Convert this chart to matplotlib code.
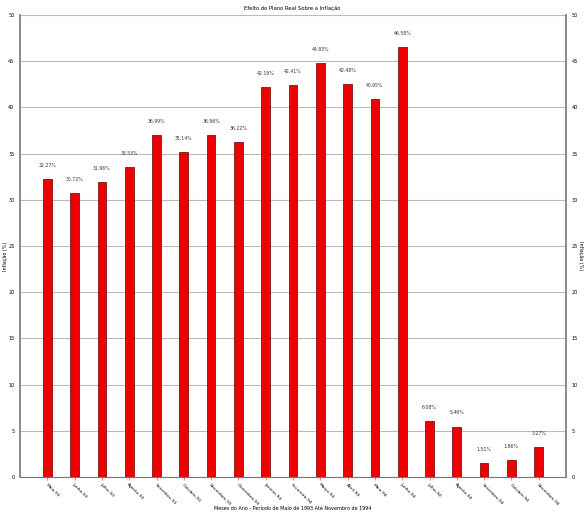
import numpy as np
import matplotlib.pyplot as plt

# Dados
meses = ['Maio-93', 'Junho-93', 'Julho-93', 'Agosto-93', 'Setembro-93', 'Outubro-93',
         'Novembro-93', 'Dezembro-93', 'Janeiro-94', 'Fevereiro-94', 'Março-94',
         'Abril-94', 'Maio-94', 'Junho-94', 'Julho-94', 'Agosto-94', 'Setembro-94',
         'Outubro-94', 'Novembro-94']
inflacao = [32.27, 30.72, 31.96, 33.53, 36.99, 35.14, 36.96, 36.22, 42.19, 42.41,
            44.83, 42.48, 40.95, 46.58, 6.08, 5.46, 1.51, 1.86, 3.27]
yticks = [0, 5, 10, 15, 20, 25, 30, 35, 40, 45, 50]

fig = plt.figure(figsize=(5.85, 5.12), dpi=100)
ax = fig.add_axes([20 / 585, 35 / 512, 546 / 585, 462 / 512])

x = np.arange(len(meses))
ax.bar(x, inflacao, width=0.32, color='#ee0000', edgecolor='#660000', linewidth=0.5, zorder=3)

for xi, v in zip(x, inflacao):
    ax.text(xi, v + 1.2, f'{v:.2f}%', ha='center', va='bottom', fontsize=3.3, color='#333333')

ax.set_xlim(-1, len(meses))
ax.set_ylim(0, 50)
ax.set_yticks(yticks)
ax.yaxis.grid(True, color='#bbbbbb', linewidth=0.8, zorder=0)
ax.set_xticks(x)
ax.set_xticklabels(meses, rotation=-45, ha='left', va='top', rotation_mode='anchor', fontsize=3.2)
ax.tick_params(axis='x', length=2, width=0.5, pad=2, color='#777777')
ax.tick_params(axis='y', labelsize=3.5, length=0, pad=4, right=True, labelright=True)

for side in ['left', 'right']:
    ax.spines[side].set_color('#777777')
    ax.spines[side].set_linewidth(1.2)
ax.spines['top'].set_visible(False)
ax.spines['bottom'].set_color('#777777')
ax.spines['bottom'].set_linewidth(0.8)

fig.text(5 / 585, 0.5, 'Inflação (%)', rotation=90, ha='center', va='center', fontsize=3.5)
fig.text(580 / 585, 0.5, 'Inflação (%)', rotation=-90, ha='center', va='center', fontsize=3.5)
fig.text(0.5, 1 - 508 / 512, 'Meses do Ano - Período de Maio de 1993 Até Novembro de 1994',
         ha='center', va='center', fontsize=3.5)
fig.text(0.5, 0.988, 'Efeito do Plano Real Sobre a Inflação', ha='center', va='top', fontsize=3.8)

fig.savefig('out.png', dpi=100)
